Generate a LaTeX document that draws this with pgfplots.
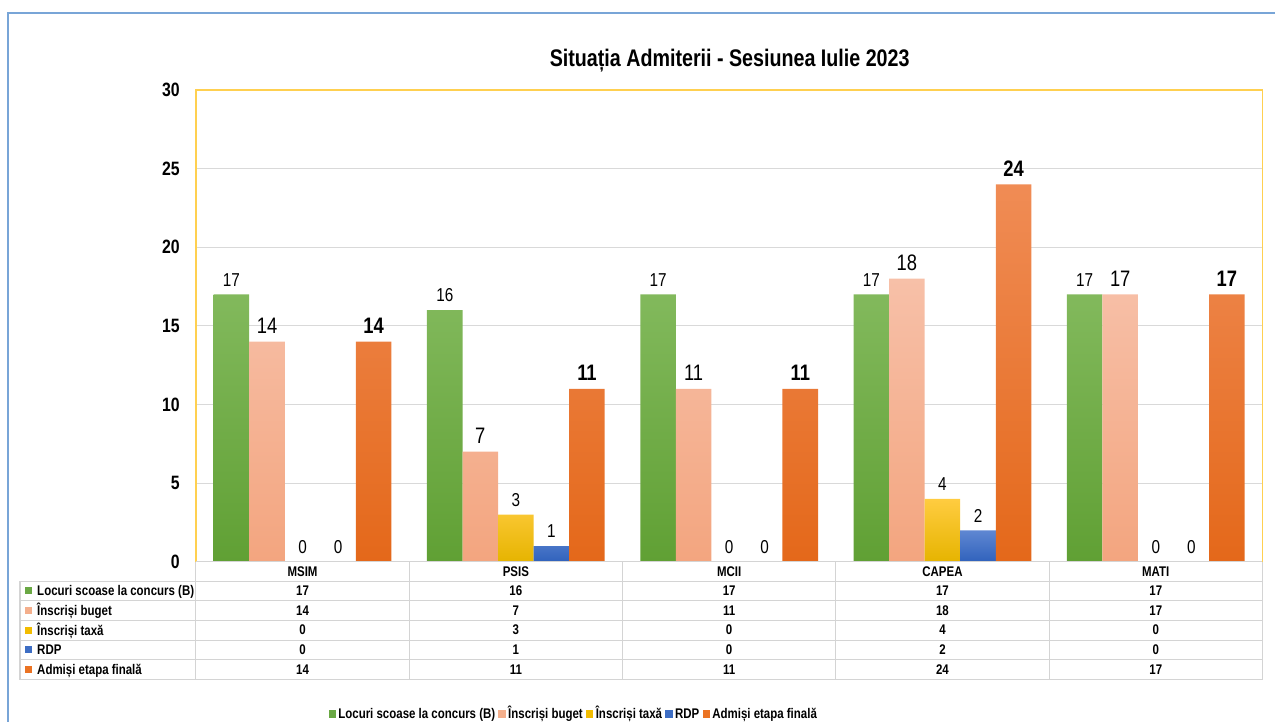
\documentclass[border=0pt]{standalone}
\usepackage{pgfplots}
\pgfplotsset{compat=1.18}
\usepackage{fontspec}
\setmainfont{Liberation Sans}[FakeStretch=0.82]
\definecolor{gridgray}{RGB}{217,217,217}
\definecolor{tablegray}{RGB}{212,212,212}
\definecolor{goldline}{RGB}{255,208,80}
\definecolor{frameblue}{RGB}{120,165,215}
\definecolor{kgreen}{RGB}{106,168,68}
\definecolor{kpink}{RGB}{244,175,140}
\definecolor{kyellow}{RGB}{242,188,0}
\definecolor{kblue}{RGB}{62,110,196}
\definecolor{korange}{RGB}{235,115,35}
\newcommand{\tfont}{\bfseries\fontsize{10.5}{12}\selectfont}
\newcommand{\leg}[1]{\raisebox{0.4pt}{\textcolor{#1}{\rule{5.6pt}{5.6pt}}}}
\begin{document}
\begin{tikzpicture}
\begin{scope}[x=0.75pt,y=-0.75pt]
\path (0,0) rectangle (1276,722);
\draw[frameblue, line width=0.9pt] (8,722) -- (8,13) -- (1276,13);
\node[font=\bfseries\fontsize{18}{20}\selectfont] at (730,61) {Situația Admiterii - Sesiunea Iulie 2023};
\end{scope}
\begin{axis}[
  at={(147pt,-421.5pt)}, anchor=south west,
  scale only axis, width=800.25pt, height=354pt,
  xmin=-0.5, xmax=4.5, ymin=0, ymax=30,
  ybar=0pt, bar width=26.675pt,
  axis line style={draw=none},
  xtick=\empty, ytick={0,5,...,30},
  major tick length=0pt,
  ymajorgrids, grid style={color=gridgray, line width=0.8pt},
  /pgf/number format/assume math mode=true,
  yticklabel style={font=\bfseries\fontsize{14.5}{15}\selectfont, inner sep=0pt, xshift=-12pt},
  clip=false,
  nodes near coords,
  every node near coord/.append style={inner sep=0pt, yshift=6pt, text=black},
]
\addplot[draw=none, top color={rgb,255:red,130;green,185;blue,92}, bottom color={rgb,255:red,96;green,160;blue,52},
  every node near coord/.append style={font=\fontsize{14}{14}\selectfont}]
  coordinates {(0,17) (1,16) (2,17) (3,17) (4,17)};
\addplot[draw=none, top color={rgb,255:red,247;green,192;blue,168}, bottom color={rgb,255:red,243;green,165;blue,127},
  every node near coord/.append style={font=\fontsize{16.8}{17}\selectfont}]
  coordinates {(0,14) (1,7) (2,11) (3,18) (4,17)};
\addplot[draw=none, top color={rgb,255:red,255;green,204;blue,64}, bottom color={rgb,255:red,230;green,180;blue,0},
  every node near coord/.append style={font=\fontsize{14}{14}\selectfont}]
  coordinates {(0,0) (1,3) (2,0) (3,4) (4,0)};
\addplot[draw=none, top color={rgb,255:red,95;green,135;blue,210}, bottom color={rgb,255:red,48;green,98;blue,188},
  every node near coord/.append style={font=\fontsize{14}{14}\selectfont}]
  coordinates {(0,0) (1,1) (2,0) (3,2) (4,0)};
\addplot[draw=none, top color={rgb,255:red,240;green,140;blue,85}, middle color={rgb,255:red,244;green,126;blue,42}, bottom color={rgb,255:red,228;green,104;blue,26},
  every node near coord/.append style={font=\bfseries\fontsize{16.8}{17}\selectfont}]
  coordinates {(0,14) (1,11) (2,11) (3,24) (4,17)};
\end{axis}
\begin{scope}[x=0.75pt,y=-0.75pt]
% plot border
\draw[goldline, line width=0.9pt] (196,562) -- (196,90) -- (1263,90) -- (1263,562);
% table lines
\draw[tablegray, line width=0.8pt] (196,562) -- (1263,562);
\foreach \yy in {581.5,601,620.5,640.5,660,680} \draw[tablegray, line width=0.8pt] (20,\yy) -- (1263,\yy);
\draw[tablegray, line width=0.8pt] (20,581.5) -- (20,680);
\foreach \i in {0,...,5} \draw[tablegray, line width=0.8pt] ({196+213.4*\i},562) -- ({196+213.4*\i},680);
% headers
\foreach \c [count=\i from 0] in {MSIM,PSIS,MCII,CAPEA,MATI}
  \node[font=\tfont] at ({302.7+213.4*\i},572) {\c};
% row labels
\foreach \col/\lab [count=\r from 0] in {kgreen/Locuri scoase la concurs (B),kpink/Înscriși buget,kyellow/Înscriși taxă,kblue/RDP,korange/Admiși etapa finală}{
  \fill[\col] (25,{591.2+19.6*\r-3.5}) rectangle (32,{591.2+19.6*\r+3.5});
  \node[font=\tfont, anchor=base west, inner sep=0pt] at (37,{591.2+19.6*\r+5}) {\lab};
}
% values
\foreach \v [count=\i from 0] in {17,16,17,17,17} \node[font=\tfont] at ({302.7+213.4*\i},591.2) {\v};
\foreach \v [count=\i from 0] in {14,7,11,18,17} \node[font=\tfont] at ({302.7+213.4*\i},610.8) {\v};
\foreach \v [count=\i from 0] in {0,3,0,4,0} \node[font=\tfont] at ({302.7+213.4*\i},630.4) {\v};
\foreach \v [count=\i from 0] in {0,1,0,2,0} \node[font=\tfont] at ({302.7+213.4*\i},650) {\v};
\foreach \v [count=\i from 0] in {14,11,11,24,17} \node[font=\tfont] at ({302.7+213.4*\i},669.6) {\v};
% legend
\node[font=\tfont] at (573,714) {\leg{kgreen}\,Locuri scoase la concurs (B)\ \leg{kpink}\,Înscriși buget\ \leg{kyellow}\,Înscriși taxă\ \leg{kblue}\,RDP\ \leg{korange}\,Admiși etapa finală};
\end{scope}
\end{tikzpicture}
\end{document}
